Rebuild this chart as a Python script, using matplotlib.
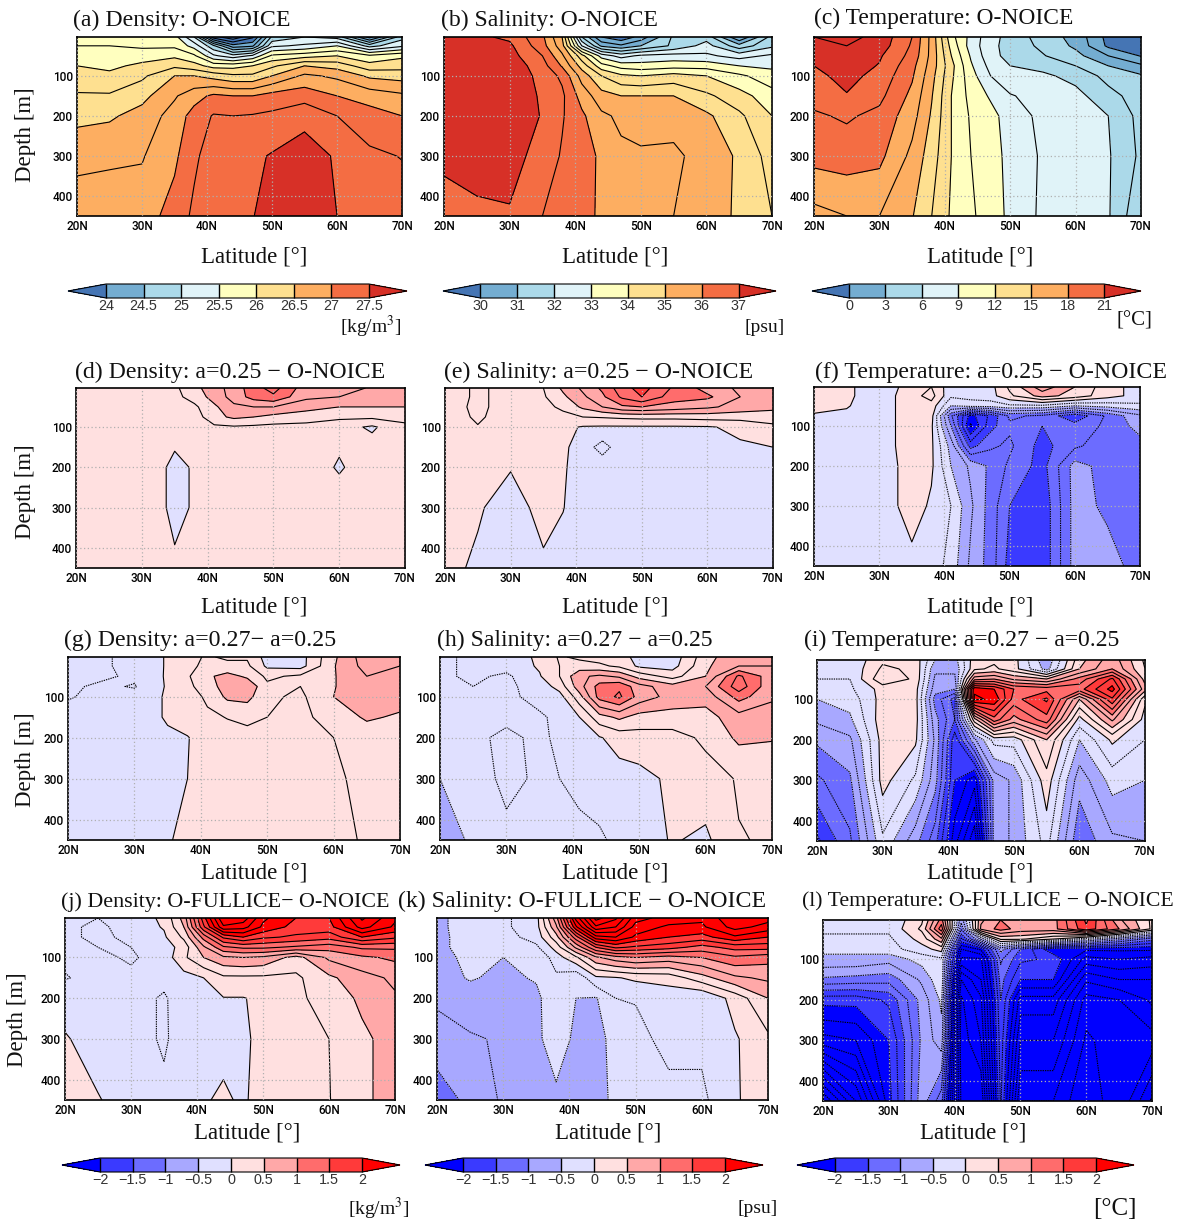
import numpy as np
import matplotlib
matplotlib.use('Agg')
import matplotlib.pyplot as plt

plt.rcParams['font.family'] = ['Liberation Serif', 'DejaVu Serif']
plt.rcParams['mathtext.fontset'] = 'stix'
plt.rcParams['contour.negative_linestyle'] = (0, (1.2, 0.9))

W, H = 1190, 1223

lats = [20, 25, 30, 35, 38, 41, 44, 47, 50, 55, 60, 65, 70]
depths = [3, 25, 50, 75, 100, 150, 200, 300, 450]

rho_noice = [
    [25.7, 25.7, 25.65, 25.6, 25.0, 23.6, 23.3, 23.7, 24.8, 25.0, 24.9, 23.9, 24.9],
    [25.75, 25.75, 25.7, 25.7, 25.4, 24.8, 24.1, 24.2, 25.2, 25.3, 25.5, 24.9, 25.2],
    [25.9, 25.9, 25.9, 25.95, 25.8, 25.3, 25.1, 25.3, 25.8, 25.9, 26.0, 25.8, 25.95],
    [26.0, 25.95, 26.05, 26.2, 26.1, 25.9, 25.9, 26.0, 26.2, 26.5, 26.4, 26.1, 26.15],
    [26.1, 26.05, 26.2, 26.5, 26.5, 26.4, 26.3, 26.3, 26.5, 26.8, 26.7, 26.45, 26.4],
    [26.28, 26.28, 26.42, 26.72, 26.9, 27.05, 27.0, 27.0, 27.1, 27.15, 27.0, 26.9, 26.8],
    [26.42, 26.46, 26.6, 26.85, 27.1, 27.27, 27.25, 27.27, 27.3, 27.42, 27.25, 27.1, 27.0],
    [26.7, 26.72, 26.73, 26.95, 27.2, 27.38, 27.38, 27.45, 27.52, 27.62, 27.47, 27.3, 27.24],
    [26.85, 26.85, 26.88, 27.1, 27.3, 27.4, 27.44, 27.49, 27.6, 27.7, 27.5, 27.42, 27.38],
]
sal_noice = [
    [37.05, 37.1, 36.9, 36.1, 35.0, 31.5, 30.0, 29.6, 30.2, 31.6, 31.8, 30.0, 31.7],
    [37.1, 37.15, 37.1, 36.2, 35.2, 32.5, 30.9, 30.6, 31.0, 31.6, 32.2, 31.2, 31.9],
    [37.2, 37.3, 37.2, 36.5, 35.6, 34.2, 32.8, 32.3, 32.6, 32.7, 32.6, 32.3, 32.6],
    [37.3, 37.4, 37.35, 36.7, 35.95, 34.8, 33.7, 33.3, 33.2, 33.3, 33.3, 33.0, 32.9],
    [37.35, 37.45, 37.45, 36.8, 36.4, 35.3, 34.5, 34.1, 34.0, 34.2, 34.0, 33.6, 33.2],
    [37.3, 37.4, 37.5, 36.9, 36.6, 35.8, 35.2, 35.0, 35.0, 35.0, 34.6, 34.2, 33.7],
    [37.3, 37.4, 37.5, 36.95, 36.55, 36.1, 35.6, 35.4, 35.35, 35.4, 35.1, 34.6, 34.0],
    [37.2, 37.3, 37.2, 36.8, 36.45, 36.25, 35.9, 35.6, 35.55, 35.55, 35.4, 34.9, 34.3],
    [36.6, 36.85, 36.95, 36.5, 36.3, 36.2, 35.9, 35.6, 35.5, 35.5, 35.3, 34.9, 34.5],
]
temp_noice = [
    [22.5, 23.0, 22.0, 19.5, 16.0, 11.0, 8.5, 6.5, 5.5, 3.8, 2.5, -0.5, -1.0],
    [22.0, 22.5, 21.8, 19.3, 16.0, 11.5, 8.3, 6.5, 5.3, 4.2, 2.7, -0.3, -1.0],
    [21.6, 22.0, 21.2, 19.0, 16.0, 12.0, 8.8, 6.5, 5.5, 4.6, 3.5, 1.5, -0.1],
    [21.0, 21.8, 20.9, 18.5, 15.8, 12.5, 9.2, 7.0, 6.0, 5.5, 4.5, 3.0, 1.8],
    [20.6, 21.5, 20.5, 18.2, 15.5, 12.3, 9.6, 7.5, 6.6, 6.3, 5.5, 4.0, 3.2],
    [20.0, 20.9, 19.9, 17.6, 15.1, 12.0, 10.0, 8.8, 7.6, 7.0, 6.5, 5.0, 3.8],
    [19.3, 19.7, 19.1, 17.1, 14.8, 12.0, 10.3, 9.5, 8.3, 7.1, 7.0, 6.0, 4.0],
    [18.5, 18.7, 18.4, 16.1, 14.2, 12.0, 10.5, 9.7, 8.5, 7.3, 7.3, 6.15, 4.2],
    [16.0, 16.5, 16.5, 15.1, 13.5, 11.8, 10.7, 9.9, 8.6, 7.2, 7.3, 6.15, 3.2],
]

rho_a25 = [
    [.1, .15, .15, .2, .42, .65, .85, 1.15, 1.35, .85, .95, .7, .7],
    [.15, .15, .15, .18, .35, .6, .85, 1.1, 1.2, .8, .75, .65, .65],
    [.15, .15, .15, .15, .2, .45, .7, .75, .75, .6, .5, .5, .5],
    [.12, .12, .12, .12, .12, .42, .55, .5, .42, .35, .3, .3, .32],
    [.1, .1, .1, .1, .1, .2, .22, .2, .18, .18, .1, -.04, .2],
    [.1, .1, .23, .02, .05, .08, .08, .1, .1, .1, .02, .1, .1],
    [.1, .1, .23, -.08, .03, .1, .1, .1, .1, .1, -.02, .1, .1],
    [.1, .1, .23, -.08, .03, .1, .1, .1, .1, .1, .1, .1, .1],
    [.1, .1, .1, .05, .1, .1, .1, .1, .1, .1, .1, .1, .1],
]
sal_a25 = [
    [.1, .3, .15, .25, .55, .8, 1.05, 1.4, 1.6, 1.2, .9, .7, .75],
    [.1, .3, .15, .22, .45, .7, .95, 1.3, 1.5, 1.1, 1.05, .75, .75],
    [.15, .3, .15, .18, .3, .55, .75, .95, 1.0, .9, .8, .65, .55],
    [.15, .28, .15, .14, .18, .25, .27, .3, .32, .32, .35, .35, .4],
    [.14, .24, .15, .12, .06, -.02, -.03, -.03, -.03, -.03, -.02, .05, .18],
    [.12, .15, .13, .1, .05, -.12, -.35, -.1, -.08, -.08, -.1, -.03, .0],
    [.1, .06, .01, .03, .02, -.08, -.1, -.1, -.1, -.1, -.1, -.1, -.1],
    [.08, .02, -.08, .06, .005, -.08, -.1, -.1, -.1, -.1, -.1, -.1, -.1],
    [.05, -.03, -.08, -.03, -.06, -.08, -.1, -.1, -.1, -.1, -.1, -.1, -.1],
]
temp_a25 = [
    [.2, .05, -.15, .1, .25, -.15, -.15, -.1, .3, .9, .5, .1, -.1],
    [.2, .05, -.15, .15, .35, -.2, -.15, -.1, .2, .6, .4, .1, -.1],
    [.15, .02, -.15, .15, .15, -.5, -.4, -.4, -.3, -.3, -.5, -.4, -.3],
    [-.05, -.05, -.2, .2, .1, -1.2, -2.1, -1.7, -1.2, -1.3, -1.7, -1.2, -.8],
    [-.1, -.1, -.2, .2, .05, -1.0, -2.3, -1.6, -1.3, -1.5, -1.4, -1.2, -.9],
    [-.1, -.1, -.2, .2, .05, -.6, -1.6, -1.3, -1.2, -1.6, -1.3, -1.1, -1.1],
    [-.1, -.1, -.2, .15, .05, -.5, -.8, -1.05, -1.3, -1.6, -.9, -1.1, -1.2],
    [-.1, -.1, -.2, .15, -.05, -.25, -.7, -1.1, -1.5, -1.7, -.9, -1.05, -1.1],
    [-.1, -.1, -.2, -.1, -.1, -.35, -.8, -1.1, -1.6, -1.7, -.9, -.9, -1.1],
]

rho_a27 = [
    [-.3, -.3, -.15, .02, .2, .27, .22, .22, -.1, -.1, .45, .9, .75],
    [-.3, -.3, -.15, .02, .2, .3, .3, .3, -.05, -.1, .48, .85, .75],
    [-.3, -.3, -.2, .03, .22, .45, .6, .45, .2, .3, .48, .75, .65],
    [-.3, -.2, -.27, .03, .18, .4, .6, .7, .3, .25, .48, .75, .65],
    [-.28, -.15, -.15, .03, .12, .3, .55, .58, .3, .2, .5, .7, .65],
    [-.1, -.1, -.1, .02, .1, .2, .26, .3, .25, .22, .3, .55, .45],
    [-.1, -.1, -.1, -.03, -.01, .1, .15, .18, .2, .2, .25, .3, .3],
    [-.1, -.1, -.1, -.02, .0, .1, .12, .15, .18, .2, .22, .3, .3],
    [-.1, -.1, -.1, -.01, .03, .08, .1, .1, .12, .15, .2, .27, .27],
]
sal_a27 = [
    [-.3, -.2, -.15, .05, .28, .2, .15, .12, -.1, -.15, .4, .7, .7],
    [-.3, -.2, -.15, .03, .25, .35, .3, .2, -.05, -.1, .45, .75, .75],
    [-.3, -.2, -.3, -.02, .25, .7, .8, .7, .4, .15, .5, 1.3, .85],
    [-.3, -.25, -.3, -.15, .1, .65, 1.1, 1.2, .85, .6, .75, 1.4, .8],
    [-.3, -.3, -.3, -.18, -.1, .4, 1.1, 1.3, .9, .65, .6, 1.1, .8],
    [-.3, -.3, -.3, -.28, -.2, .0, .4, .55, .4, .4, .4, .65, .6],
    [-.3, -.3, -.2, -.3, -.2, -.15, -.02, .1, .15, .15, .3, .55, .52],
    [-.5, -.35, -.2, -.28, -.25, -.2, -.15, -.1, -.08, .05, .15, .27, .3],
    [-.65, -.45, -.3, -.3, -.3, -.3, -.28, -.2, -.12, .02, -.05, .24, .27],
]
temp_a27 = [
    [-.2, -.2, .2, .15, -.5, -.6, .15, .2, .1, -.7, .4, .9, .2],
    [-.2, -.2, .3, .2, -.7, -.7, .2, .3, .1, -.6, .5, 1.0, .25],
    [-.25, -.25, .45, .2, -.8, -.8, .9, 1.0, .7, .5, 1.1, 1.8, .4],
    [-.4, -.3, .1, .1, -.9, -1.0, 2.2, 2.0, 1.5, 1.4, 1.4, 2.1, .6],
    [-.5, -.4, .1, .1, -1.1, -1.6, 2.3, 2.2, 1.4, 1.8, .5, 1.7, .05],
    [-.7, -.55, .15, .1, -.9, -1.5, .4, 1.4, .9, 1.4, -.1, .8, -.1],
    [-.95, -.8, .1, .05, -.8, -1.9, -.8, -.15, -.15, .5, -.5, .05, -.25],
    [-1.3, -1.05, .1, -.3, -.9, -2.0, -2.4, -.9, -.7, .15, -.9, -.4, -.5],
    [-1.8, -1.3, -.3, -.9, -1.4, -2.4, -3.2, -.9, -.7, -.15, -1.2, -.8, -.75],
]

rho_full = [
    [-.2, -.25, -.15, .05, .6, 1.9, 3.0, 2.9, 2.3, 2.0, 2.0, 2.8, 2.3],
    [-.2, -.3, -.15, .02, .5, 1.7, 2.7, 2.6, 2.2, 1.9, 1.9, 2.6, 2.2],
    [-.2, -.3, -.2, -.04, .3, 1.1, 1.8, 2.0, 1.8, 1.7, 1.6, 2.0, 1.8],
    [-.2, -.25, -.25, -.12, .1, .7, 1.2, 1.3, 1.3, 1.2, 1.1, 1.3, 1.3],
    [-.22, -.2, -.28, -.15, .2, .5, .7, .75, .7, .4, .8, .95, 1.05],
    [-.26, -.2, -.2, -.18, -.1, .0, .2, .2, .2, .2, .45, .65, .8],
    [-.15, -.15, -.15, -.28, -.12, -.06, -.01, -.01, .05, .2, .35, .55, .72],
    [.03, -.15, -.15, -.28, -.15, -.1, -.1, -.05, .08, .15, .25, .45, .6],
    [.2, .02, -.15, -.2, -.15, -.03, .05, -.05, .15, .2, .24, .45, .6],
]
sal_full = [
    [-.55, -.4, -.3, -.1, .9, 2.6, 3.6, 3.3, 2.6, 2.4, 2.3, 2.7, 2.6],
    [-.55, -.4, -.3, -.1, .7, 2.2, 3.2, 3.0, 2.4, 2.2, 2.2, 2.6, 2.4],
    [-.55, -.42, -.35, -.15, .4, 1.4, 2.4, 2.5, 2.2, 2.0, 1.9, 2.2, 2.0],
    [-.55, -.42, -.42, -.3, .1, .8, 1.5, 1.8, 1.7, 1.6, 1.4, 1.6, 1.6],
    [-.57, -.45, -.5, -.48, -.12, .2, .7, .9, 1.0, .9, 1.0, 1.2, 1.1],
    [-.6, -.48, -.55, -.48, -.3, -.45, -.05, -.02, .05, .1, .4, .7, .8],
    [-.73, -.6, -.6, -.55, -.35, -.5, -.52, -.25, -.24, -.15, -.25, .1, .5],
    [-.8, -.78, -.72, -.55, -.38, -.55, -.55, -.45, -.3, -.2, -.2, -.03, .2],
    [-1.2, -.9, -.72, -.6, -.55, -.6, -.58, -.45, -.35, -.3, -.3, -.05, .25],
]
temp_full = [
    [-.2, -.2, -.2, .2, 1.1, -.9, .7, 1.0, .8, .9, 1.8, .8, .2],
    [-.2, -.2, -.2, .3, 1.4, -1.2, .8, 1.1, .9, .9, 1.7, 1.0, .2],
    [-.3, -.3, -.3, .1, .7, -1.8, -.7, .3, .3, .0, -.4, -.9, -1.4],
    [-.45, -.45, -.35, -.1, .1, -2.5, -2.2, -.9, -1.5, -2.2, -2.2, -2.2, -2.2],
    [-.55, -.55, -.65, -.4, -.3, -2.8, -2.8, -1.2, -1.7, -1.8, -2.6, -2.5, -2.6],
    [-1.05, -1.1, -1.15, -.7, -.3, -3.5, -3.0, -1.4, -2.0, -2.0, -3.2, -3.0, -3.0],
    [-1.9, -1.9, -1.7, -.9, -.45, -3.8, -3.3, -1.5, -2.6, -2.6, -3.6, -3.5, -3.2],
    [-2.6, -2.5, -2.0, -.95, -.6, -3.9, -3.5, -1.6, -3.0, -3.0, -3.8, -3.6, -3.6],
    [-4.5, -3.5, -2.1, -.85, -1.4, -3.8, -4.0, -1.7, -3.5, -3.5, -4.0, -3.5, -4.3],
]

rho_levels = [24, 24.5, 25, 25.5, 26, 26.5, 27, 27.5]
sal_levels = [30, 31, 32, 33, 34, 35, 36, 37]
temp_levels = [0, 3, 6, 9, 12, 15, 18, 21]
diff_levels = [-2, -1.5, -1, -0.5, 0, 0.5, 1, 1.5, 2]

warm_colors = ['#4575b4', '#74add1', '#abd9e9', '#e0f3f8', '#ffffbf',
               '#fee090', '#fdae61', '#f46d43', '#d73027']
diff_colors = ['#0000ff', '#3a3aff', '#6c6cff', '#a8a8ff', '#e0e0ff',
               '#ffe0e0', '#ffa8a8', '#ff6c6c', '#ff3a3a', '#ff0000']


def px_axes(x0, x1, y0, y1):
    return fig.add_axes([x0 / W, 1 - y1 / H, (x1 - x0) / W, (y1 - y0) / H])


def px_text(x, y, s, **kw):
    fig.text(x / W, 1 - y / H, s, **kw)


fig = plt.figure(figsize=(W / 100, H / 100), dpi=100)

# z, fill levels, colours, line step, box, title x, baseline, title size, title, latitude label x, baseline
panels = [
    (rho_noice, rho_levels, warm_colors, 0.25, (77, 402, 37, 216), 73, 26, 17.2, '(a) Density: O-NOICE', 254, 263),
    (sal_noice, sal_levels, warm_colors, 0.5, (444, 772, 37, 216), 441, 26, 17.05, '(b) Salinity: O-NOICE', 615, 263),
    (temp_noice, temp_levels, warm_colors, 1.5, (814, 1141, 37, 216), 814, 24, 16.9, '(c) Temperature: O-NOICE', 980, 263),
    (rho_a25, diff_levels, diff_colors, 0.25, (76, 405, 388, 568), 75, 378, 17.2, '(d) Density: a=0.25 \u2212 O-NOICE', 254, 612),
    (sal_a25, diff_levels, diff_colors, 0.25, (445, 773, 388, 568), 444, 378, 17.2, '(e) Salinity: a=0.25 \u2212 O-NOICE', 615, 612),
    (temp_a25, diff_levels, diff_colors, 0.25, (814, 1140, 387, 566), 815, 378, 17.2, '(f) Temperature: a=0.25 \u2212 O-NOICE', 980, 612),
    (rho_a27, diff_levels, diff_colors, 0.25, (68, 400, 657, 840), 64, 646, 17.2, '(g) Density: a=0.27\u2212 a=0.25', 254, 878),
    (sal_a27, diff_levels, diff_colors, 0.25, (440, 772, 657, 840), 437, 646, 17.1, '(h) Salinity: a=0.27 \u2212 a=0.25', 615, 878),
    (temp_a27, diff_levels, diff_colors, 0.25, (817, 1145, 660, 841), 804, 646, 17.15, '(i) Temperature: a=0.27 \u2212 a=0.25', 980, 878),
    (rho_full, diff_levels, diff_colors, 0.25, (65, 395, 918, 1100), 61, 907, 15.8, '(j) Density: O-FULLICE\u2212 O-NOICE', 247, 1139),
    (sal_full, diff_levels, diff_colors, 0.25, (437, 768, 918, 1100), 398, 907, 17.2, '(k) Salinity: O-FULLICE \u2212 O-NOICE', 608, 1139),
    (temp_full, diff_levels, diff_colors, 0.25, (823, 1152, 920, 1101), 802, 906, 15.7, '(l) Temperature: O-FULLICE \u2212 O-NOICE', 973, 1139),
]

filled = []
for z, levels, colors, step, box, tx, ty, tsize, title, lx, ly in panels:
    ax = px_axes(*box)
    z = np.array(z)
    cs = ax.contourf(lats, depths, z, levels=levels, colors=colors, extend='both')
    lines = np.arange(np.floor(z.min() / step) * step, z.max() + step, step)
    ax.contour(lats, depths, z, levels=lines, colors='k', linewidths=0.8)
    filled.append(cs)
    ax.set_xlim(20, 70)
    ax.set_ylim(450, 3)
    ax.set_xticks([20, 30, 40, 50, 60, 70])
    ax.set_xticklabels(['20N', '30N', '40N', '50N', '60N', '70N'])
    ax.set_yticks([100, 200, 300, 400])
    ax.tick_params(length=0, pad=3, labelsize=8.5)
    for lab in ax.get_xticklabels() + ax.get_yticklabels():
        lab.set_family('Roboto')
        lab.set_weight('medium')
    ax.grid(True, color='#b0b0b0', linestyle=(0, (1, 2)), linewidth=0.9)
    ax.set_axisbelow(False)
    for sp in ax.spines.values():
        sp.set_linewidth(1.2)
    px_text(tx, ty, title, fontsize=tsize, ha='left', va='baseline', color='#111111')
    px_text(lx, ly, 'Latitude [\u00b0]', fontsize=16.5, ha='center', va='baseline', color='#111111')

for x, y in [(25, 135), (25, 492), (25, 760), (18, 1020)]:
    px_text(x, y, 'Depth [m]', fontsize=16.5, rotation=90, ha='center', va='center', color='#111111')

# colour bars: the box holds the triangles too
bars = [
    (0, (68, 407, 284, 298), rho_levels, ['24', '24.5', '25', '25.5', '26', '26.5', '27', '27.5']),
    (1, (443, 776, 284, 298), sal_levels, ['30', '31', '32', '33', '34', '35', '36', '37']),
    (2, (812, 1141, 284, 298), temp_levels, ['0', '3', '6', '9', '12', '15', '18', '21']),
    (9, (62, 400, 1158, 1172), diff_levels, ['\u22122', '\u22121.5', '\u22121', '\u22120.5', '0', '0.5', '1', '1.5', '2']),
    (10, (425, 763, 1158, 1172), diff_levels, ['\u22122', '\u22121.5', '\u22121', '\u22120.5', '0', '0.5', '1', '1.5', '2']),
    (11, (797, 1134, 1158, 1172), diff_levels, ['\u22122', '\u22121.5', '\u22121', '\u22120.5', '0', '0.5', '1', '1.5', '2']),
]
for idx, box, ticks, labels in bars:
    cax = px_axes(*box)
    cb = fig.colorbar(filled[idx], cax=cax, orientation='horizontal', extend='both',
                      extendfrac=0.145, drawedges=True, spacing='uniform')
    cb.set_ticks(ticks)
    cb.set_ticklabels(labels)
    cb.ax.tick_params(length=0, pad=1, labelsize=10.4, labelcolor='#333333')
    for lab in cb.ax.get_xticklabels():
        lab.set_family('Liberation Sans')
    cb.dividers.set_linewidth(1.0)
    cb.outline.set_linewidth(0.8)

px_text(402, 333, '[kg/m$^3$]', fontsize=14, ha='right', va='baseline', color='#111111')
px_text(785, 332, '[psu]', fontsize=14, ha='right', va='baseline', color='#111111')
px_text(1152, 326, '[\u00b0C]', fontsize=15, ha='right', va='baseline', color='#111111')
px_text(410, 1215, '[kg/m$^3$]', fontsize=14, ha='right', va='baseline', color='#111111')
px_text(778, 1213, '[psu]', fontsize=14, ha='right', va='baseline', color='#111111')
px_text(1137, 1215, '[\u00b0C]', fontsize=18, ha='right', va='baseline', color='#111111')

fig.savefig('out.png', dpi=100)
